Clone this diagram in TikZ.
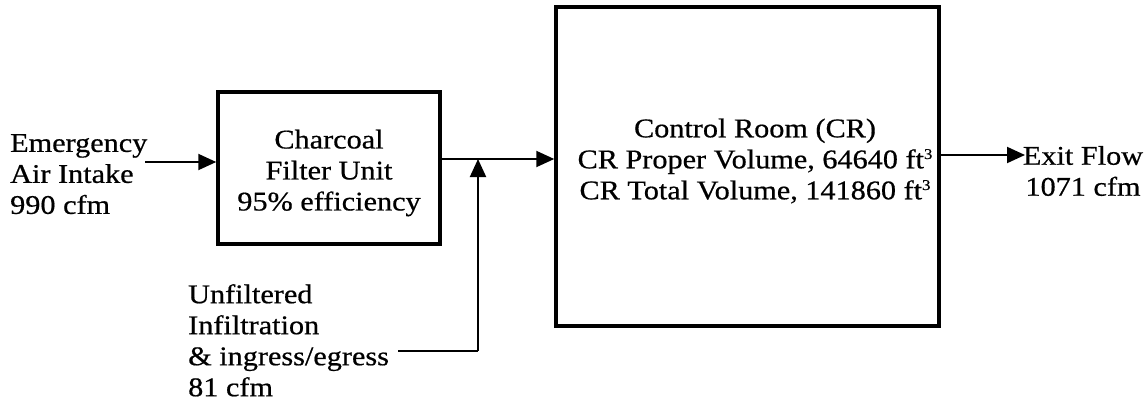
\documentclass[tikz,border=0pt]{standalone}
\usepackage{fontspec}
\setmainfont{Liberation Serif}[FakeStretch=1.12, FakeBold=0.6]
\usetikzlibrary{arrows.meta}
\newcommand{\cube}{\raisebox{0.75ex}{\fontsize{15}{15}\selectfont 3}}
\begin{document}
\begin{tikzpicture}[x=1pt,y=-1pt,
  every node/.style={font=\fontsize{27}{31}\selectfont, inner sep=0pt},
  unitbox/.style={draw, line width=3.5pt},
  flow/.style={line width=2pt, -{Triangle[length=18pt,width=16pt]}},
  plain/.style={line width=2pt}]
\useasboundingbox (0,0) rectangle (1144,408);

% process boxes
\node[unitbox, minimum width=222pt, minimum height=152pt] (filter) at (329,168) {};
\node[unitbox, minimum width=383pt, minimum height=319pt] (cr) at (747.5,166.5) {};

% box captions
\node[align=center] (filtertxt) at (329,173)
  {Charcoal\\Filter Unit\\95\% efficiency};
\node[align=center] (crtxt) at (755,161)
  {Control Room (CR)\\CR Proper Volume, 64640 ft\cube\\CR Total Volume, 141860 ft\cube};

% stream labels
\node[align=left, anchor=north west] (intake) at (10,134)
  {Emergency\\Air Intake\\990 cfm};
\node[align=left, anchor=north west] (infil) at (188,284)
  {Unfiltered\\Infiltration\\\& ingress/egress\\81 cfm};
\node[align=center] (exit) at (1083,171)
  {Exit Flow\\1071 cfm};

% connector end points
\coordinate (inS) at (145,162);
\coordinate (j) at (478,159);
\coordinate (infS) at (398,351);
\coordinate (exE) at (1025,155);

% flows
\draw[flow] (inS) -- (inS -| filter.west);
\draw[flow] (filter.east |- j) -- (j -| cr.west);
\draw[plain] (infS) -- (infS -| j);
\draw[flow] (infS -| j) -- (j);
\draw[flow] (cr.east |- exE) -- (exE);
\end{tikzpicture}
\end{document}
